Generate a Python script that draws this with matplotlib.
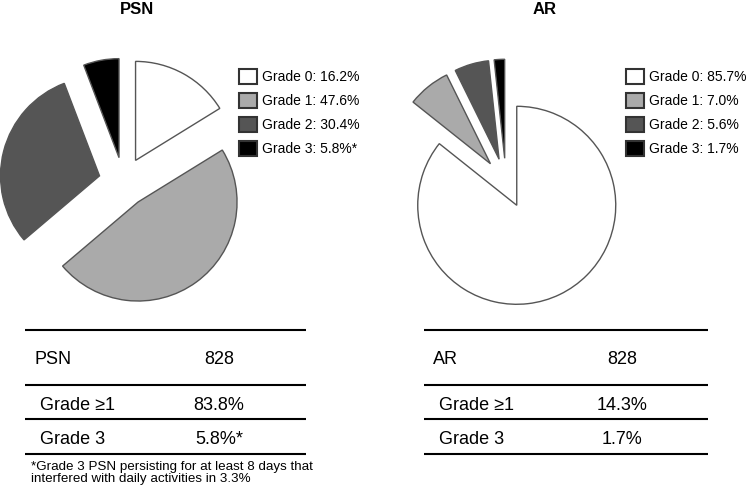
import matplotlib
matplotlib.use('Agg')
import matplotlib.pyplot as plt
from matplotlib.patches import Patch

plt.rcParams['font.family'] = ['Liberation Sans', 'DejaVu Sans']

# ---- data ----
grades = ['Grade 0', 'Grade 1', 'Grade 2', 'Grade 3']
psn_values = [16.2, 47.6, 30.4, 5.8]
ar_values = [85.7, 7.0, 5.6, 1.7]
psn_marks = ['', '', '', '*']
ar_marks = ['', '', '', '']
colors = ['#ffffff', '#aaaaaa', '#555555', '#000000']

psn_header = ('PSN', '828')
ar_header = ('AR', '828')
row_labels = ['Grade \u22651', 'Grade 3']
psn_rows = ['83.8%', '5.8%*']
ar_rows = ['14.3%', '1.7%']
footnote = ('*Grade 3 PSN persisting for at least 8 days that\n'
            'interfered with daily activities in 3.3%')

# ---- layout ----
W, H = 750, 490
fig = plt.figure(figsize=(7.5, 4.9), dpi=100)
R = 99.0


def px_axes(x0, y0, x1, y1, cx, cy):
    ax = fig.add_axes([x0 / W, 1 - y1 / H, (x1 - x0) / W, (y1 - y0) / H])
    return ax, ((x0 - cx) / R, (x1 - cx) / R), ((cy - y1) / R, (cy - y0) / R)


def draw_pie(values, marks, title, rect, center, title_xy, legend_xy):
    ax, xl, yl = px_axes(*rect, *center)
    ax.pie(values, colors=colors, startangle=90, counterclock=False,
           explode=[0.25] * len(values),
           wedgeprops=dict(edgecolor='#555555', linewidth=1.0))
    ax.set_xlim(*xl)
    ax.set_ylim(*yl)
    ax.axis('off')
    fig.text(title_xy[0] / W, 1 - title_xy[1] / H, title, ha='center',
             va='baseline', fontsize=12, fontweight='bold')
    handles = [Patch(facecolor=c, edgecolor='#333333', linewidth=1.5)
               for c in colors]
    labels = [f'{g}: {v:.1f}%{m}' for g, v, m in zip(grades, values, marks)]
    fig.legend(handles, labels, loc='upper left',
               bbox_to_anchor=(legend_xy[0] / W, 1 - legend_xy[1] / H),
               frameon=False, fontsize=10, borderpad=0, borderaxespad=0,
               handlelength=1.29, handleheight=1.29, handletextpad=0.4,
               labelspacing=0.64)


draw_pie(psn_values, psn_marks, 'PSN', (0, 50, 250, 320), (123.5, 182),
         (137, 14), (239, 69))
draw_pie(ar_values, ar_marks, 'AR', (380, 50, 630, 320), (506, 183),
         (545, 14), (626, 69))

# ---- tables ----
ov = fig.add_axes([0, 0, 1, 1], zorder=-1)
ov.set_xlim(0, W)
ov.set_ylim(H, 0)
ov.axis('off')

line_y = [330, 385, 419, 454]
base_y = [364, 410, 444]


def draw_table(x0, x1, header, rows, label_x, value_x):
    ov.hlines(line_y, x0, x1, colors='black', linewidth=1.5)
    ov.text(label_x[0], base_y[0], header[0], ha='left', va='baseline',
            fontsize=13)
    ov.text(value_x, base_y[0], header[1], ha='center', va='baseline',
            fontsize=13)
    for i, (lab, val) in enumerate(zip(row_labels, rows)):
        ov.text(label_x[1], base_y[i + 1], lab, ha='left', va='baseline',
                fontsize=13)
        ov.text(value_x, base_y[i + 1], val, ha='center', va='baseline',
                fontsize=13)


draw_table(25, 306, psn_header, psn_rows, (35, 40), 219)
draw_table(424, 708, ar_header, ar_rows, (433, 439), 622)

ov.text(31, 461, footnote, ha='left', va='top', fontsize=9.6,
        linespacing=1.05)

fig.savefig('out.png', dpi=100)
